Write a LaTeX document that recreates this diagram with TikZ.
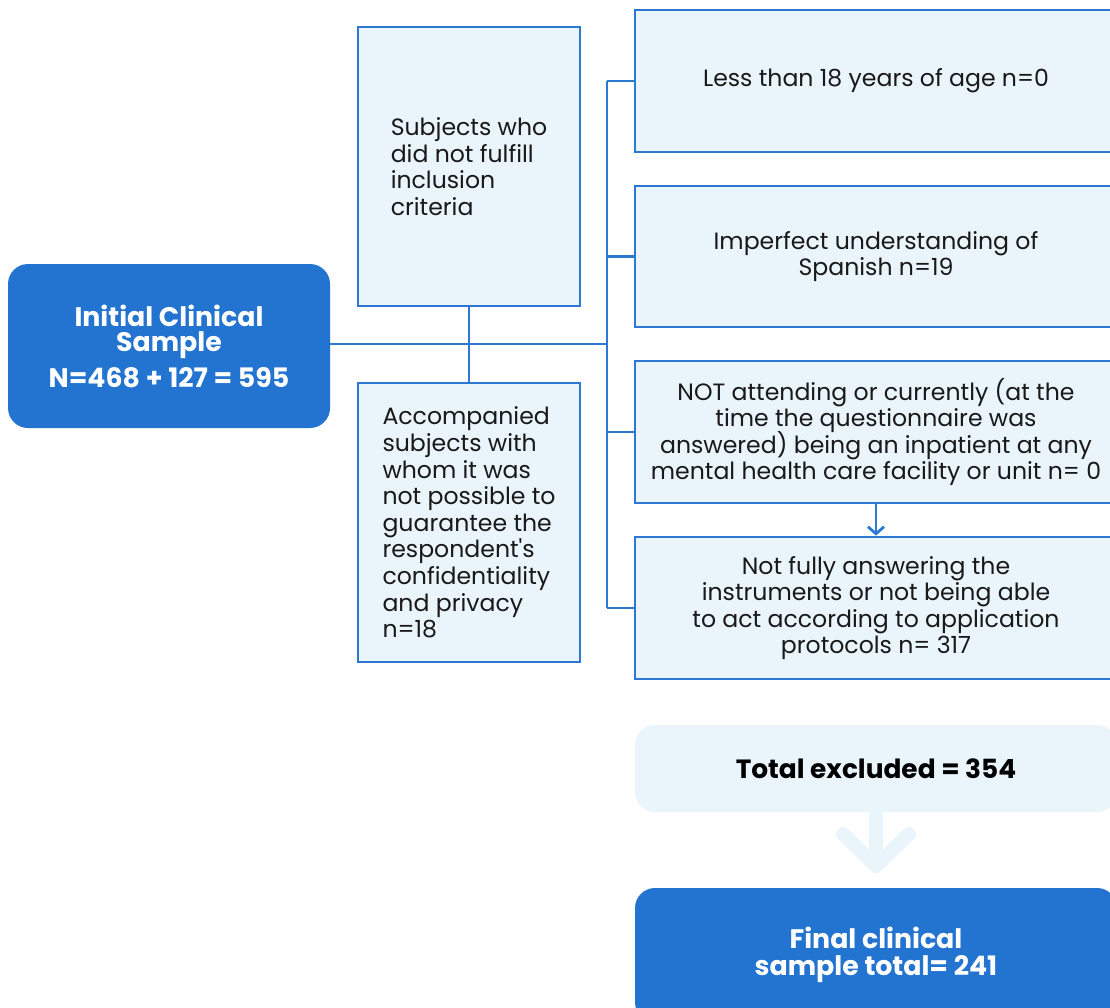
\documentclass[tikz,border=0pt]{standalone}
\usepackage{fontspec}
\setmainfont{Poppins}
\usetikzlibrary{arrows.meta}
\definecolor{mainblue}{RGB}{35,115,209}
\definecolor{paleblue}{RGB}{234,244,251}
\definecolor{edgeblue}{RGB}{44,120,211}
\definecolor{inktext}{RGB}{25,25,25}
% fixed line pitch regardless of glyph extents
\newcommand{\tightlines}{\lineskiplimit=-100pt\lineskip=0pt\relax}
\begin{document}
\begin{tikzpicture}[x=1pt,y=-1pt,
  solidbox/.style={fill=mainblue, rounded corners=20pt, text=white,
    font=\fontsize{26.8}{25}\selectfont\bfseries\tightlines, align=center, inner sep=0pt},
  lightbox/.style={fill=paleblue, draw=edgeblue, line width=2.8pt, text=inktext,
    font=\fontsize{23.6}{26.6}\selectfont\tightlines, inner sep=0pt},
  softbox/.style={fill=paleblue, rounded corners=20pt, text=black,
    font=\fontsize{26.4}{26}\selectfont\bfseries, inner sep=0pt},
  link/.style={draw=edgeblue, line width=2.8pt}
]
\useasboundingbox (0,0) rectangle (1110,1007);
\clip (0,0) rectangle (1110,1007);

% starting sample
\node[solidbox, minimum width=322pt, minimum height=164pt] (init) at (169,346)
  {Initial Clinical\\Sample\\[11pt]N=468 + 127 = 595};

% two exclusion groups
\node[lightbox, minimum width=222pt, minimum height=279pt, align=left] (subj) at (469,166.5)
  {Subjects who\\did not fulfill\\inclusion\\criteria};
\node[lightbox, minimum width=222pt, minimum height=279pt, align=left] (acc) at (469,522.5)
  {Accompanied\\subjects with\\whom it was\\not possible to\\guarantee the\\respondent\textquotesingle s\\confidentiality\\and privacy\\n=18};

% criteria
\node[lightbox, minimum width=482pt, minimum height=142pt, align=center] (r1) at (876,81)
  {Less than 18 years of age n=0};
\node[lightbox, minimum width=482pt, minimum height=141pt, align=center] (r2) at (876,256.5)
  {Imperfect understanding of\\Spanish n=19};
\node[lightbox, minimum width=482pt, minimum height=142pt, align=center] (r3) at (876,432)
  {NOT attending or currently (at the\\time the questionnaire was\\answered) being an inpatient at any\\mental health care facility or unit n= 0};
\node[lightbox, minimum width=482pt, minimum height=142pt, align=center] (r4) at (876,608)
  {Not fully answering the\\instruments or not being able\\to act according to application\\protocols n= 317};

% totals
\node[softbox, minimum width=482pt, minimum height=87pt] (tot) at (876,768.5)
  {Total excluded = 354};
\node[solidbox, minimum width=482pt, minimum height=134pt, font=\fontsize{26.8}{27}\selectfont\bfseries\tightlines] (fin) at (876,955)
  {Final clinical\\sample total= 241};

% bus connections
\coordinate (b1) at (607,81);
\coordinate (b4) at (607,608);
\draw[link] (b1) -- (b4);
\draw[link] (init.east |- 0,344) -- (b1 |- 0,344);
\draw[link] (subj.south) -- (acc.north);
\draw[link] (b1) -- (r1.west);
\draw[link] (b1 |- r2.west) -- (r2.west);
\draw[link] (b1 |- r3.west) -- (r3.west);
\draw[link] (b4) -- (r4.west);

% small arrow between criteria
\draw[link, -{Straight Barb[length=7pt,width=16pt]}] (r3.south) -- (r4.north);

% wide pale arrow to final sample
\coordinate (apex) at (876,866);
\draw[paleblue, line width=14pt, line cap=round, line join=round]
  (tot.south) -- (apex);
\draw[paleblue, line width=14pt, line cap=round, line join=round]
  (843,834) -- (apex) -- (909,834);
\end{tikzpicture}
\end{document}
